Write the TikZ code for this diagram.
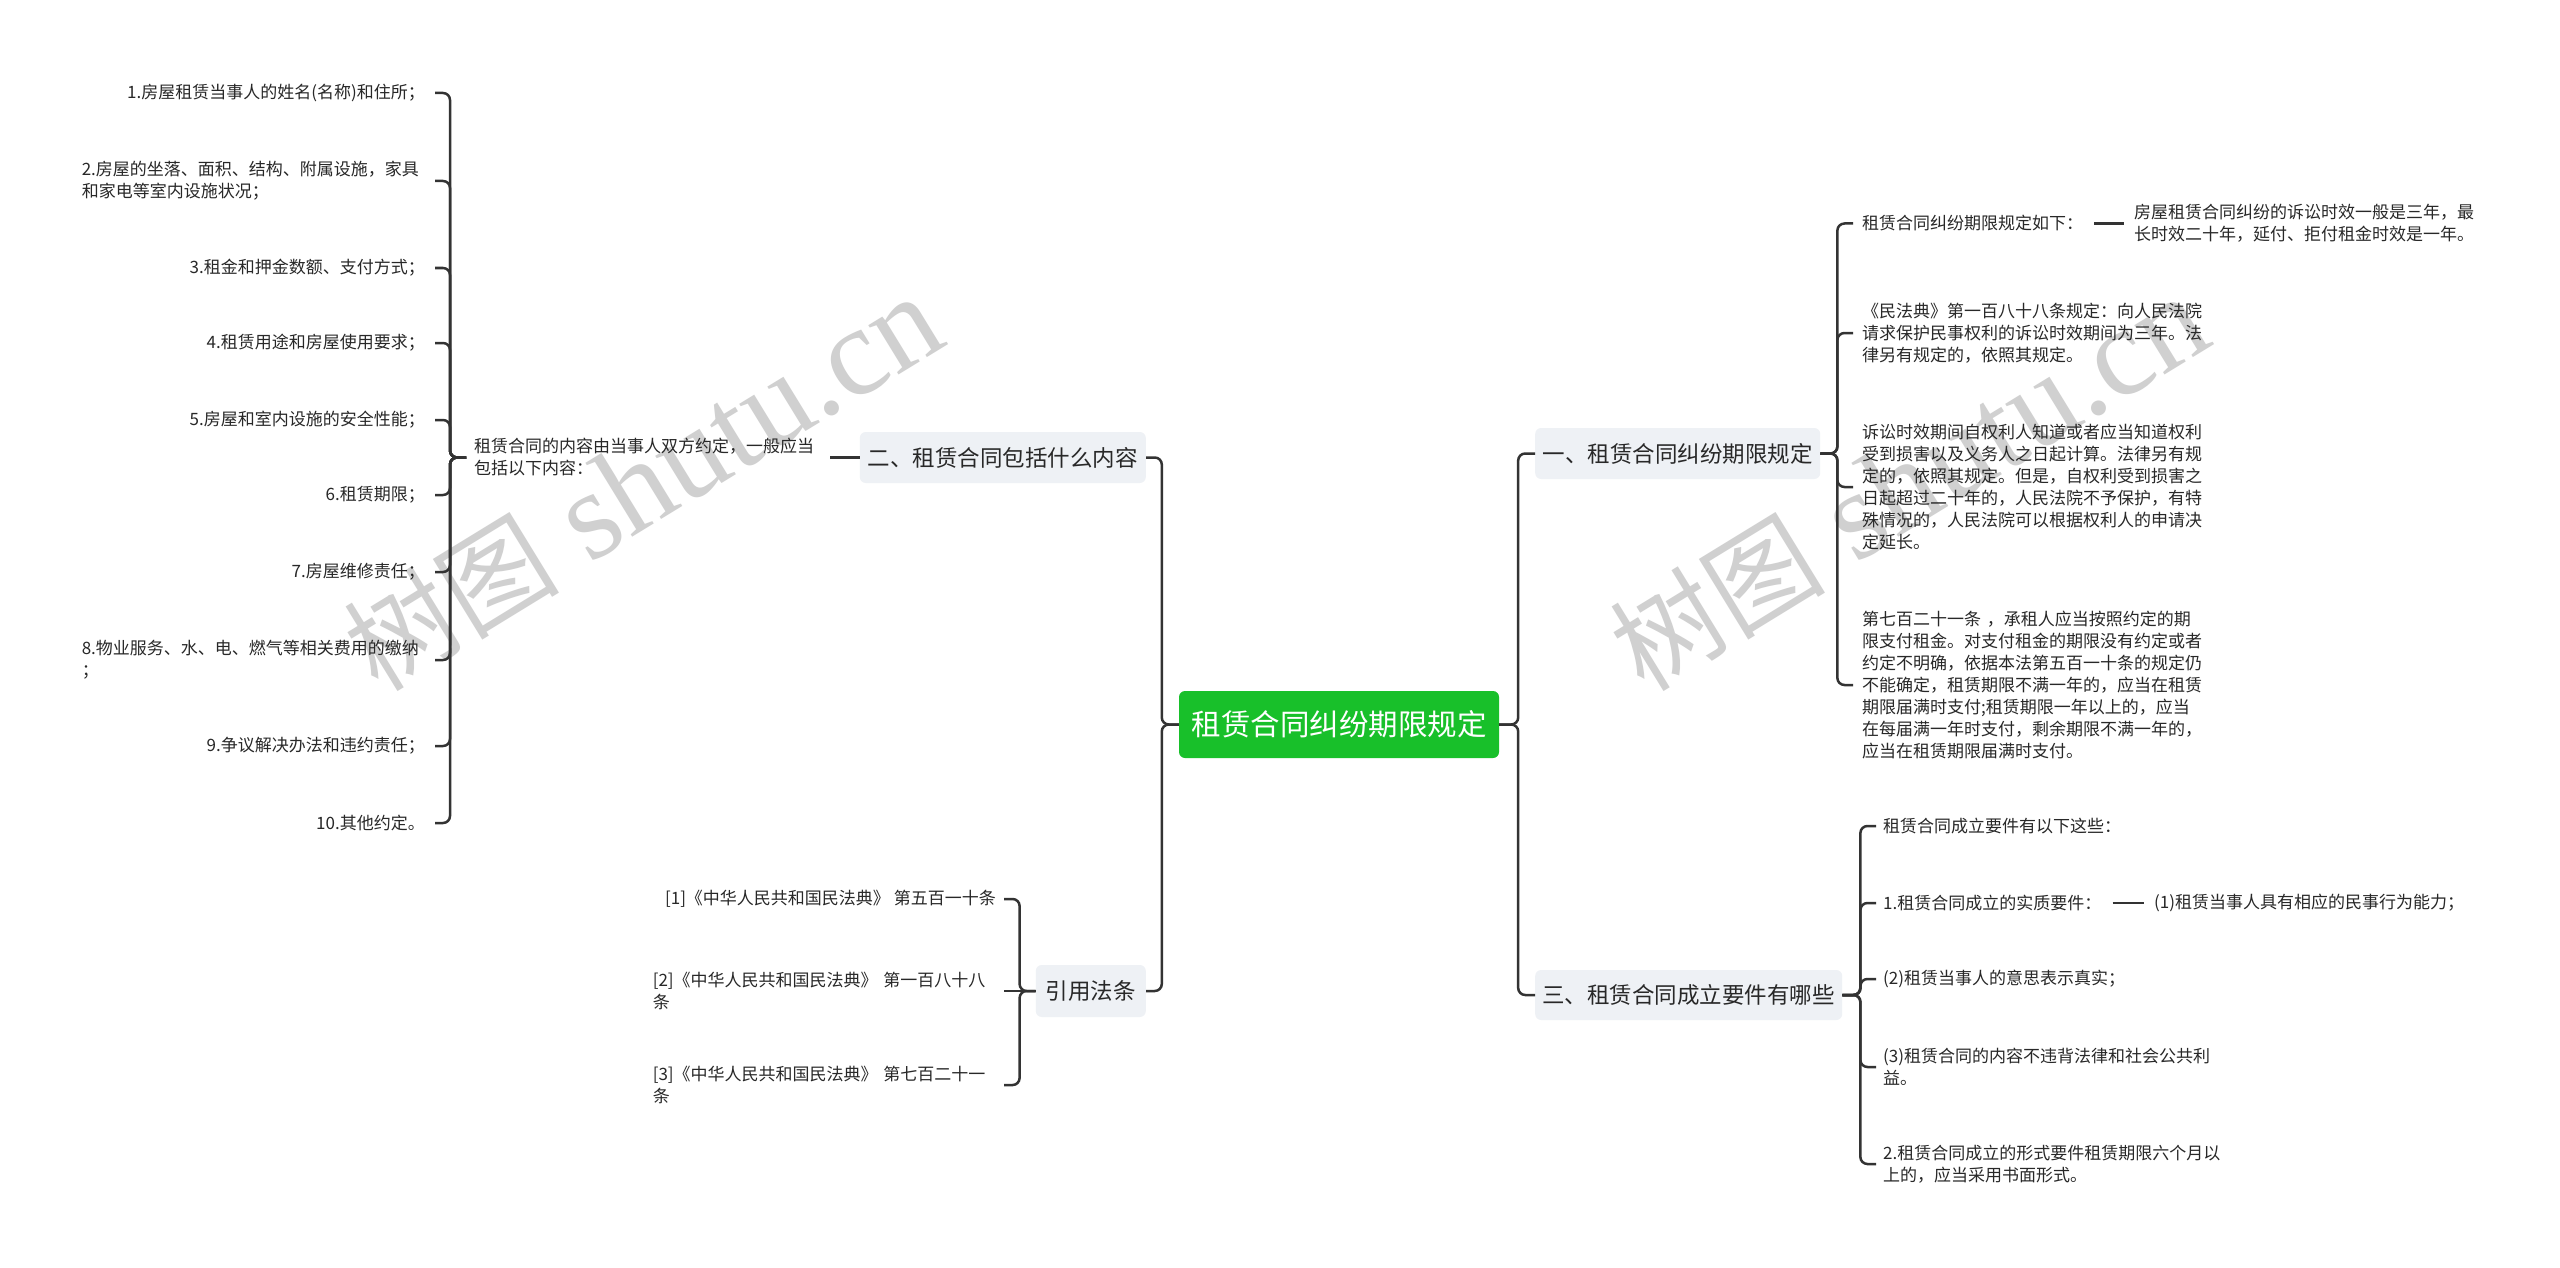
\documentclass[tikz,border=0pt]{standalone}
\usepackage{fontspec}
\setmainfont{Noto Sans CJK SC}
\newfontfamily\wmlatin{Liberation Serif}
\definecolor{linec}{RGB}{51,51,51}
\definecolor{txt}{RGB}{40,40,40}
\definecolor{boxfill}{RGB}{238,241,245}
\definecolor{rootgreen}{RGB}{24,192,42}
\definecolor{wmc}{RGB}{208,208,208}
\begin{document}
\begin{tikzpicture}[x=1pt,y=-1pt,
  conn/.style={draw=linec, line width=2.5pt, rounded corners=7pt},
  leaf/.style={inner sep=0pt, text=txt, font=\fontsize{17}{22}\selectfont},
  wrapl/.style={leaf, text width=343pt, align=left},
  topic/.style={rounded corners=6pt, fill=boxfill, text=txt, font=\fontsize{22.5}{27}\selectfont, inner sep=0pt, minimum height=51pt},
  rootbox/.style={rounded corners=6pt, fill=rootgreen, text=white, font=\fontsize{29.5}{34}\selectfont, inner sep=0pt, minimum width=320pt, minimum height=67pt},
  wmark/.style={text=wmc, inner sep=0pt, anchor=base west, rotate=31.5, font=\fontsize{108}{108}\selectfont}
]
\fill[white] (0,0) rectangle (2560,1268);
\useasboundingbox (0,0) rectangle (2560,1268);

% watermarks
\node[wmark] (wm1) at (378,694) {树图{\wmlatin\fontsize{126}{126}\selectfont\ shutu.cn}};
\node[wmark] (wm2) at (1644,694) {树图{\wmlatin\fontsize{126}{126}\selectfont\ shutu.cn}};

% root and main topics
\node[rootbox] (root) at (1339,724.5) {租赁合同纠纷期限规定};
\node[topic, anchor=west, minimum width=285pt] (b1) at (1535,453.5) {一、租赁合同纠纷期限规定};
\node[topic, anchor=east, minimum width=286pt] (b2) at (1146,457.5) {二、租赁合同包括什么内容};
\node[topic, anchor=west, minimum width=307pt, minimum height=50pt] (b3) at (1535,995) {三、租赁合同成立要件有哪些};
\node[topic, anchor=east, minimum width=110pt, minimum height=52pt] (b4) at (1146,991) {引用法条};

% left: contents
\node[wrapl, anchor=west] (m) at (474,457.5) {租赁合同的内容由当事人双方约定，一般应当\\包括以下内容：};
\node[leaf, anchor=east] (i1) at (425,93) {1.房屋租赁当事人的姓名(名称)和住所；};
\node[wrapl, anchor=east] (i2) at (425,181) {2.房屋的坐落、面积、结构、附属设施，家具\\和家电等室内设施状况；};
\node[leaf, anchor=east] (i3) at (425,268) {3.租金和押金数额、支付方式；};
\node[leaf, anchor=east] (i4) at (425,343) {4.租赁用途和房屋使用要求；};
\node[leaf, anchor=east] (i5) at (425,420) {5.房屋和室内设施的安全性能；};
\node[leaf, anchor=east] (i6) at (425,495) {6.租赁期限；};
\node[leaf, anchor=east] (i7) at (425,572) {7.房屋维修责任；};
\node[wrapl, anchor=east] (i8) at (425,660) {8.物业服务、水、电、燃气等相关费用的缴纳\\；};
\node[leaf, anchor=east] (i9) at (425,746) {9.争议解决办法和违约责任；};
\node[leaf, anchor=east] (i10) at (425,823) {10.其他约定。};

% left: references
\node[leaf, anchor=east] (r1) at (996,899) {[1]《中华人民共和国民法典》 第五百一十条};
\node[wrapl, anchor=east] (r2) at (996,991) {[2]《中华人民共和国民法典》 第一百八十八\\条};
\node[wrapl, anchor=east] (r3) at (996,1085) {[3]《中华人民共和国民法典》 第七百二十一\\条};

% right: topic 1 children
\node[leaf, anchor=west] (a1) at (1862,223.5) {租赁合同纠纷期限规定如下：};
\node[wrapl, anchor=west] (g1) at (2134,223.5) {房屋租赁合同纠纷的诉讼时效一般是三年，最\\长时效二十年，延付、拒付租金时效是一年。};
\node[wrapl, anchor=west] (a2) at (1862,333) {《民法典》第一百八十八条规定：向人民法院\\请求保护民事权利的诉讼时效期间为三年。法\\律另有规定的，依照其规定。};
\node[wrapl, anchor=west] (a3) at (1862,487) {诉讼时效期间自权利人知道或者应当知道权利\\受到损害以及义务人之日起计算。法律另有规\\定的，依照其规定。但是，自权利受到损害之\\日起超过二十年的，人民法院不予保护，有特\\殊情况的，人民法院可以根据权利人的申请决\\定延长。};
\node[wrapl, anchor=west] (a4) at (1862,685) {第七百二十一条 ，承租人应当按照约定的期\\限支付租金。对支付租金的期限没有约定或者\\约定不明确，依据本法第五百一十条的规定仍\\不能确定，租赁期限不满一年的，应当在租赁\\期限届满时支付;租赁期限一年以上的，应当\\在每届满一年时支付，剩余期限不满一年的，\\应当在租赁期限届满时支付。};

% right: topic 3 children
\node[leaf, anchor=west] (c1) at (1883,826) {租赁合同成立要件有以下这些：};
\node[leaf, anchor=west] (c2) at (1883,903) {1.租赁合同成立的实质要件：};
\node[leaf, anchor=west] (c2g) at (2154,903) {(1)租赁当事人具有相应的民事行为能力；};
\node[leaf, anchor=west] (c3) at (1883,979) {(2)租赁当事人的意思表示真实；};
\node[wrapl, anchor=west] (c4) at (1883,1067) {(3)租赁合同的内容不违背法律和社会公共利\\益。};
\node[wrapl, anchor=west] (c5) at (1883,1164) {2.租赁合同成立的形式要件租赁期限六个月以\\上的，应当采用书面形式。};

% connectors: root
\draw[conn] (root.west) -- ++(-17,0) |- (b2.east);
\draw[conn] (root.west) -- ++(-17,0) |- (b4.east);
\draw[conn] (root.east) -- ++(19,0) |- (b1.west);
\draw[conn] (root.east) -- ++(19,0) |- (b3.west);

% topic 2
\draw[conn] (b2.west) -- ([xshift=13pt]m.east);
\foreach \n in {i1,i2,i3,i4,i5,i6,i7,i8,i9,i10}
  \draw[conn] ([xshift=-8pt]m.west) -- ++(-16,0) |- ([xshift=10pt]\n.east);

% references
\draw[conn] (b4.west) -- ++(-16,0) |- ([xshift=8pt]r1.east);
\draw[conn] (b4.west) -- ([xshift=8pt]r2.east);
\draw[conn] (b4.west) -- ++(-16,0) |- ([xshift=8pt]r3.east);

% topic 1
\foreach \n in {a1,a2,a3,a4}
  \draw[conn] (b1.east) -- ++(17,0) |- ([xshift=-9pt]\n.west);
\draw[conn] ([xshift=11pt]a1.east) -- ([xshift=-10pt]g1.west);

% topic 3
\foreach \n in {c1,c2,c3,c4,c5}
  \draw[conn] (b3.east) -- ++(18,0) |- ([xshift=-7pt]\n.west);
\draw[conn] ([xshift=11pt]c2.east) -- ([xshift=-10pt]c2g.west);
\end{tikzpicture}
\end{document}
